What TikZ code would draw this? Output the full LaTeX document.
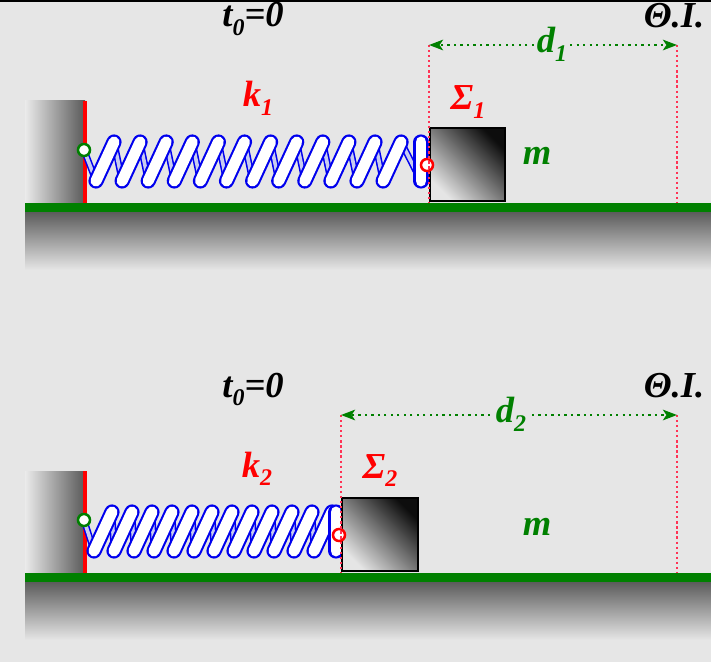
\documentclass[tikz,border=0pt]{standalone}
\usepackage{fontspec}
\setmainfont{Liberation Serif}
\usetikzlibrary{arrows.meta}
\definecolor{bgGray}{HTML}{E6E6E6}
\definecolor{grGreen}{HTML}{008000}
\definecolor{dotRed}{HTML}{FF3355}
\definecolor{coilBlue}{HTML}{0000EE}
\definecolor{coilBack}{HTML}{C8CCF0}
\tikzset{
  coilfront/.style={draw=coilBlue, line width=1.5pt, double=white, double distance=7.8pt, line cap=round},
  coilrear/.style={draw=coilBlue, line width=1.1pt, double=coilBack, double distance=2.6pt, line cap=round},
  reddots/.style={draw=dotRed, line width=1.6pt, dash pattern=on 1.6pt off 2pt},
  greendots/.style={draw=grGreen, line width=1.6pt, dash pattern=on 1.6pt off 3pt, -{Stealth[length=10pt, width=7.5pt, inset=2.5pt]}},
  lbl/.style={font=\fontsize{26}{30}\selectfont\bfseries\itshape, inner sep=0pt, anchor=base},
}
\newcommand\lo[1]{\raisebox{-0.22em}{\fontsize{17}{19}\selectfont #1}}
% coil: first bottom x, pitch, x of end turn, vertical shift
\def\coilspring(#1:#2:#3:#4){
  \draw[coilrear] (84, {150+#4}) -- (#1, {181+#4});
  \foreach \i in {0,...,10}
    \draw[coilrear] ({#1+\i*#2+18}, {142+#4}) -- ({#1+(\i+1)*#2}, {181+#4});
  \draw[coilrear] ({#1+11*#2+18}, {142+#4}) -- (#3, {181+#4});
  \foreach \i in {0,...,11}
    \draw[coilfront] ({#1+\i*#2}, {181+#4}) -- ++(18,-39);
  \draw[coilfront] (#3, {181+#4}) -- (#3, {142+#4});
}

\begin{document}
\begin{tikzpicture}[x=0.025cm, y=-0.025cm]
		%%%%% START %%%%%
		
		\fill[bgGray] (0,0) rectangle (711,662);
		\fill[black] (0,0) rectangle (711,2);
		
		%%%%% upper panel %%%%%
		\shade[top color=black!64, bottom color=bgGray] (25,212) rectangle (711,270);
		\shade[left color=black!8, right color=black!65] (25,101) rectangle (85,203);
		\fill[grGreen] (25,203) rectangle (711,212);
		\draw[red, line width=2.8pt] (85,101) -- (85,203);
		
		\coilspring(96:26.1:421:0)
		
		\shade[top color=black!95, middle color=black!40, bottom color=black!10, shading angle=-45] (430,128) rectangle (505,201);
		\draw[line width=2.1pt] (430,128) rectangle (505,201);
		
		\draw[grGreen, line width=1.8pt, fill=white] (84,150) circle (6);
		\draw[red, line width=1.8pt, fill=white] (427,165) circle (6);
		
		\coordinate (dl1) at (429,45);
		\coordinate (dr1) at (677,45);
		\draw[reddots] (dl1) -- (429,203);
		\draw[reddots] (dr1) -- (677,203);
		
		\node[lbl] (tzero1) at (253,27) {t\lo{0}=0};
		\node[lbl] (thetaI1) at (674,28) {Θ.Ι.};
		\node[lbl, red] (kone) at (258,107) {k\lo{1}};
		\node[lbl, red] (sigmaone) at (468,110) {Σ\lo{1}};
		\node[lbl, grGreen] (massone) at (537,165) {m};
		\node[lbl, grGreen] (dlen1) at (552,53) {d\lo{1}};
		\draw[greendots] ([xshift=-2pt]dlen1.west |- dl1) -- (dl1);
		\draw[greendots] ([xshift=2pt]dlen1.east |- dr1) -- (dr1);
		
		%%%%% lower panel %%%%%
		\shade[top color=black!64, bottom color=bgGray] (25,582) rectangle (711,640);
		\shade[left color=black!8, right color=black!65] (25,471) rectangle (85,573);
		\fill[grGreen] (25,573) rectangle (711,582);
		\draw[red, line width=2.8pt] (85,471) -- (85,573);
		
		\coilspring(94:20:336:370)
		
		\shade[top color=black!95, middle color=black!40, bottom color=black!10, shading angle=-45] (342,498) rectangle (418,571);
		\draw[line width=2.1pt] (342,498) rectangle (418,571);
		
		\draw[grGreen, line width=1.8pt, fill=white] (84,520) circle (6);
		\draw[red, line width=1.8pt, fill=white] (339,535) circle (6);
		
		\coordinate (dl2) at (341,415);
		\coordinate (dr2) at (677,415);
		\draw[reddots] (dl2) -- (341,573);
		\draw[reddots] (dr2) -- (677,573);
		
		\node[lbl] (tzero2) at (253,397) {t\lo{0}=0};
		\node[lbl] (thetaI2) at (674,398) {Θ.Ι.};
		\node[lbl, red] (ktwo) at (257,477) {k\lo{2}};
		\node[lbl, red] (sigmatwo) at (380,478) {Σ\lo{2}};
		\node[lbl, grGreen] (masstwo) at (537,535) {m};
		\node[lbl, grGreen] (dlen2) at (511,423) {d\lo{2}};
		\draw[greendots] ([xshift=-4pt]dlen2.west |- dl2) -- (dl2);
		\draw[greendots] ([xshift=4pt]dlen2.east |- dr2) -- (dr2);
		
		%%%%% END %%%%%
\end{tikzpicture}
\end{document}
